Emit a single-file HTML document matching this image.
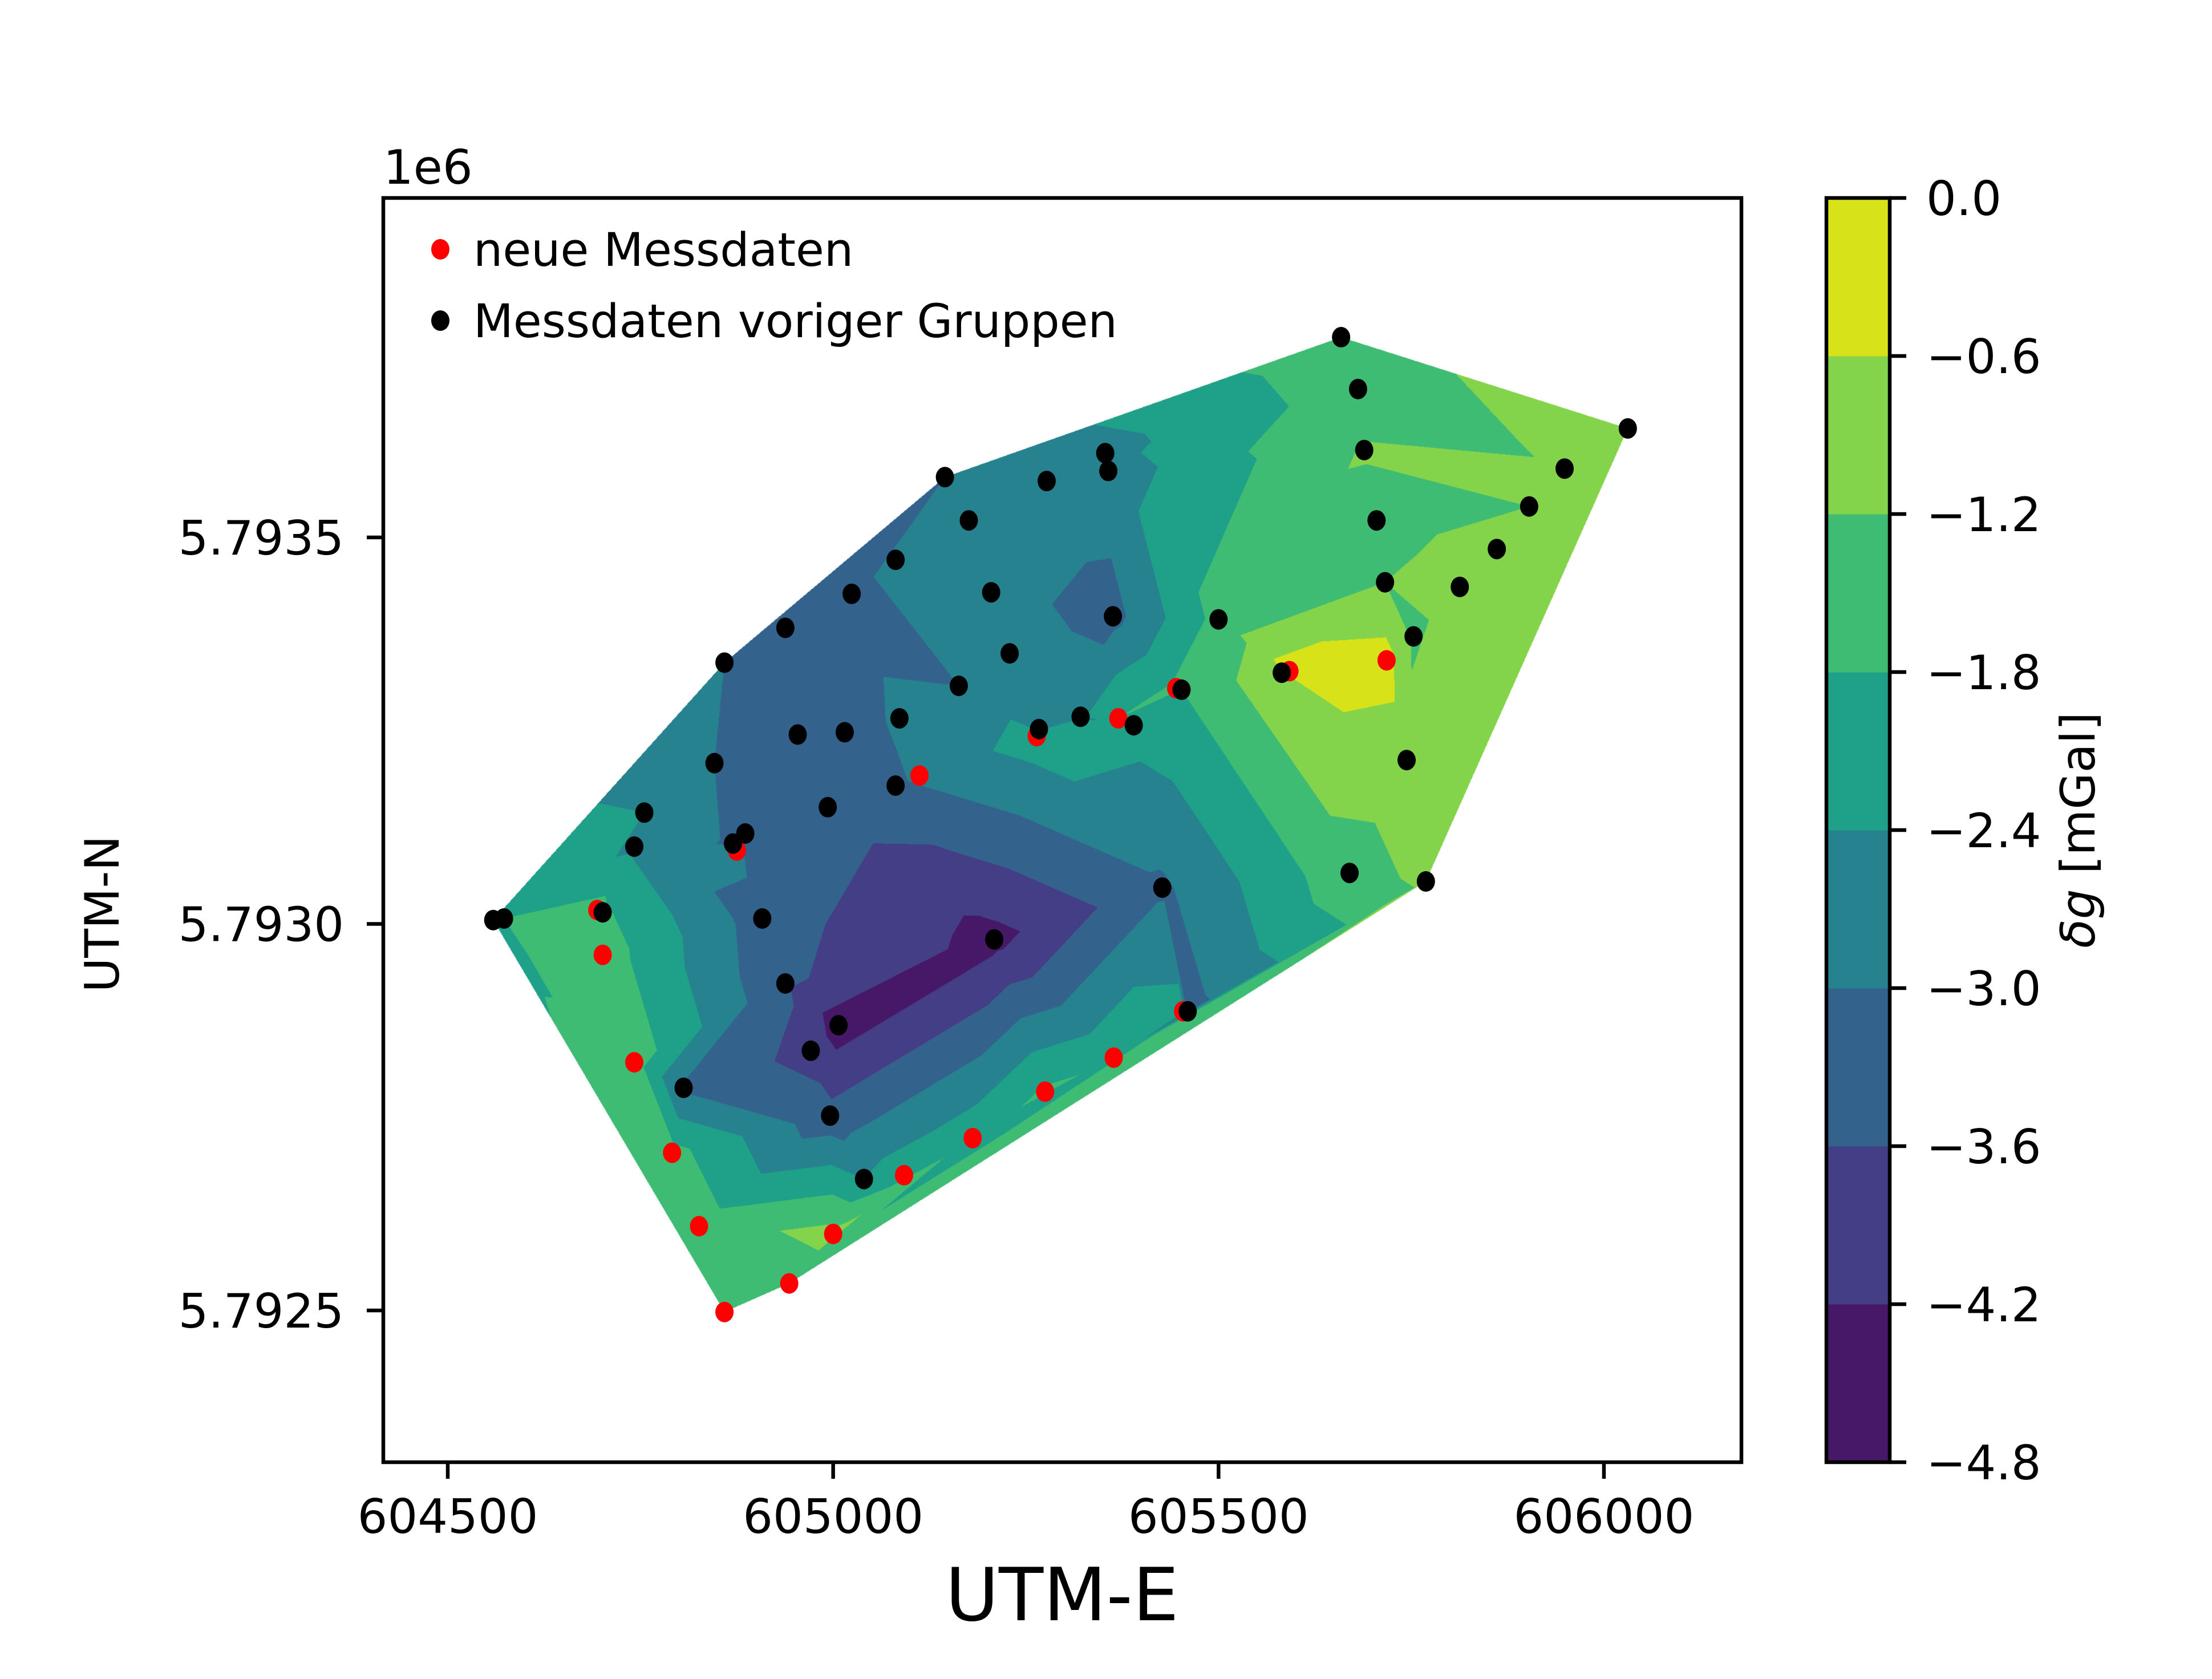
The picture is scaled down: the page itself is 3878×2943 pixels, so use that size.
<!DOCTYPE html>
<html><head><meta charset="utf-8"><style>
html,body{margin:0;padding:0;background:#fff;}
#wrap{position:relative;width:3878px;height:2943px;overflow:hidden;font-family:"DejaVu Sans","Liberation Sans",sans-serif;}
canvas,svg{position:absolute;left:0;top:0;}
</style></head><body>
<div id="wrap">
<canvas id="cv" width="3878" height="2943"></canvas>
<svg id="sv" width="3878" height="2943"></svg>
</div>
<script>
// ---- data ----
const blackE=[604559,604573,604701,604742,604755,604846,604859,604870,604886,604908,604938,604954,604993,605015,605024,605081,605086,605081,605145,605176,605205,605229,605163,605277,605353,605357,605363,605321,605267,605390,605452,605500,605427,605460,605209,605007,604938,604971,604806,604996,605040,605582,605659,605681,605689,605705,605716,605753,605744,605670,605769,605813,605861,605903,605949,606031];
const blackN=[5793005,5793007,5793015,5793100,5793144,5793208,5793338,5793104,5793117,5793007,5793383,5793245,5793151,5793248,5793427,5793471,5793266,5793179,5793578,5793522,5793429,5793350,5793308,5793573,5793609,5793586,5793398,5793268,5793252,5793257,5793303,5793394,5793047,5792887,5792980,5792869,5792923,5792836,5792788,5792752,5792670,5793325,5793759,5793692,5793613,5793522,5793442,5793372,5793212,5793066,5793055,5793436,5793485,5793540,5793589,5793641];
const blackV=[-1.9,-1.8,-1.7,-2.5,-2.4,-3.0,-3.0,-3.1,-3.1,-3.3,-3.2,-3.3,-3.3,-3.3,-3.2,-2.8,-2.9,-3.1,-3.0,-2.9,-2.8,-2.7,-3.0,-2.7,-2.6,-2.7,-3.2,-2.5,-2.5,-2.2,-1.8,-1.6,-3.1,-3.2,-4.4,-4.5,-3.5,-3.8,-3.1,-3.4,-2.4,-0.7,-1.4,-1.5,-1.15,-1.4,-1.2,-1.3,-0.95,-1.4,-1.1,-1.0,-1.0,-1.2,-1.15,-0.9];
const redE=[604694,604701,604742,604791,604826,604859,604943,605000,605092,605181,605275,605364,605454,605112,604875,605264,605370,605445,605592,605718];
const redN=[5793018,5792960,5792821,5792704,5792609,5792498,5792535,5792599,5792675,5792723,5792783,5792827,5792887,5793192,5793095,5793243,5793266,5793305,5793327,5793341];
const redV=[-1.6,-1.5,-1.5,-1.6,-1.5,-1.5,-1.6,-1.0,-2.0,-2.0,-1.7,-1.9,-2.2,-2.9,-2.8,-2.1,-1.8,-1.7,-0.3,-0.35];
const levels=[-4.8,-4.2,-3.6,-3.0,-2.4,-1.8,-1.2,-0.6,0.0];
const levelLabels=["\u22124.8","\u22124.2","\u22123.6","\u22123.0","\u22122.4","\u22121.8","\u22121.2","\u22120.6","0.0"];
const bandColors=["#471868","#433e85","#33638d","#26828e","#1fa088","#3fbc73","#84d44b","#d8e219"];
const xTicks=[604500,605000,605500,606000];
const xTickLabels=["604500","605000","605500","606000"];
const yTicks=[5792500,5793000,5793500];
const yTickLabels=["5.7925","5.7930","5.7935"];

// ---- axes ----
const AX={l:672,r:3053,t:347,b:2563};
const X=e=>785+(e-604500)*1.3513;
const Y=n=>1619.5-(n-5793000)*1.355;
const CB={l:3202,r:3313,t:347,b:2563};
const CY=v=>CB.b-(v-levels[0])/(levels[levels.length-1]-levels[0])*(CB.b-CB.t);

// ---- triangulation (Bowyer-Watson) ----
const P=[];
for(let i=0;i<redE.length;i++)P.push([X(redE[i]),Y(redN[i]),redV[i]]);
for(let i=0;i<blackE.length;i++)P.push([X(blackE[i]),Y(blackN[i]),blackV[i]]);
function circ(a,b,c){const ax=a[0],ay=a[1],bx=b[0],by=b[1],cx=c[0],cy=c[1];
 const d=2*(ax*(by-cy)+bx*(cy-ay)+cx*(ay-by));
 const ux=((ax*ax+ay*ay)*(by-cy)+(bx*bx+by*by)*(cy-ay)+(cx*cx+cy*cy)*(ay-by))/d;
 const uy=((ax*ax+ay*ay)*(cx-bx)+(bx*bx+by*by)*(ax-cx)+(cx*cx+cy*cy)*(bx-ax))/d;
 return [ux,uy,(ax-ux)**2+(ay-uy)**2];}
const pts=P.map(p=>p.slice());
const n0=pts.length;
pts.push([-1e5,-1e5,0],[1e5,-1e5,0],[0,1e5,0]);
let tris=[[n0,n0+1,n0+2]];tris[0].c=circ(pts[n0],pts[n0+1],pts[n0+2]);
for(let i=0;i<n0;i++){
 const p=pts[i];const bad=[],keep=[];
 for(const t of tris){const c=t.c;if((p[0]-c[0])**2+(p[1]-c[1])**2<c[2])bad.push(t);else keep.push(t);}
 const edges={};
 for(const t of bad){for(const [a,b] of [[t[0],t[1]],[t[1],t[2]],[t[2],t[0]]]){const k=a<b?a+'_'+b:b+'_'+a;edges[k]=edges[k]?null:[a,b];}}
 tris=keep;
 for(const k in edges){const e=edges[k];if(!e)continue;const t=[e[0],e[1],i];t.c=circ(pts[t[0]],pts[t[1]],pts[t[2]]);tris.push(t);}
}
tris=tris.filter(t=>t[0]<n0&&t[1]<n0&&t[2]<n0);

// ---- fill ----
const cv=document.getElementById('cv');const ctx=cv.getContext('2d');
const W=AX.r-AX.l,H=AX.b-AX.t;
const img=ctx.createImageData(W,H);
const rgb=bandColors.map(h=>[parseInt(h.substr(1,2),16),parseInt(h.substr(3,2),16),parseInt(h.substr(5,2),16)]);
for(const t of tris){
 const a=pts[t[0]],b=pts[t[1]],c=pts[t[2]];
 const det=(b[1]-c[1])*(a[0]-c[0])+(c[0]-b[0])*(a[1]-c[1]);if(Math.abs(det)<1e-9)continue;
 const x0=Math.max(AX.l,Math.floor(Math.min(a[0],b[0],c[0]))),x1=Math.min(AX.r-1,Math.ceil(Math.max(a[0],b[0],c[0])));
 const y0=Math.max(AX.t,Math.floor(Math.min(a[1],b[1],c[1]))),y1=Math.min(AX.b-1,Math.ceil(Math.max(a[1],b[1],c[1])));
 for(let y=y0;y<=y1;y++)for(let x=x0;x<=x1;x++){
  const px=x+0.5,py=y+0.5;
  const l1=((b[1]-c[1])*(px-c[0])+(c[0]-b[0])*(py-c[1]))/det;
  const l2=((c[1]-a[1])*(px-c[0])+(a[0]-c[0])*(py-c[1]))/det;
  const l3=1-l1-l2;
  if(l1<-1e-6||l2<-1e-6||l3<-1e-6)continue;
  const v=l1*a[2]+l2*b[2]+l3*c[2];
  let k=Math.floor((v-levels[0])/0.6);k=Math.max(0,Math.min(7,k));
  const o=((y-AX.t)*W+(x-AX.l))*4;const col=rgb[k];
  img.data[o]=col[0];img.data[o+1]=col[1];img.data[o+2]=col[2];img.data[o+3]=255;
 }
}
ctx.putImageData(img,AX.l,AX.t);

// ---- svg ----
const NS='http://www.w3.org/2000/svg';const sv=document.getElementById('sv');
function mk(tag,attrs,parent){const e=document.createElementNS(NS,tag);for(const k in attrs)e.setAttribute(k,attrs[k]);(parent||sv).appendChild(e);return e;}
for(let i=0;i<redE.length;i++){const e=mk('ellipse',{cx:X(redE[i]),cy:Y(redN[i]),rx:16,ry:18,fill:'#ff0000'});
 
 }
for(let i=0;i<blackE.length;i++){const e=mk('ellipse',{cx:X(blackE[i]),cy:Y(blackN[i]),rx:16,ry:18,fill:'#000'});
 
 }
const fr=mk('rect',{x:AX.l,y:AX.t,width:W,height:H,fill:'none',stroke:'#000','stroke-width':6.5});


xTicks.forEach((v,i)=>{const x=X(v);
 const l=mk('line',{x1:x,y1:AX.b,x2:x,y2:AX.b+29,stroke:'#000','stroke-width':6.5});
 
 
 const t=mk('text',{x:x,y:2687,'font-size':83,'text-anchor':'middle'});t.textContent=xTickLabels[i];
 
 });
yTicks.forEach((v,i)=>{const y=Y(v);
 const l=mk('line',{x1:AX.l-29,y1:y,x2:AX.l,y2:y,stroke:'#000','stroke-width':6.5});
 
 
 const t=mk('text',{x:603,y:y+30,'font-size':83,'text-anchor':'end'});t.textContent=yTickLabels[i];
 
 });
for(let i=0;i<8;i++){const r=mk('rect',{x:CB.l,y:CY(levels[i+1]),width:CB.r-CB.l,height:CY(levels[i])-CY(levels[i+1])+0.5,fill:bandColors[i]});
 
 }
const cbf=mk('rect',{x:CB.l,y:CB.t,width:CB.r-CB.l,height:CB.b-CB.t,fill:'none',stroke:'#000','stroke-width':6.5});


levels.forEach((v,i)=>{const y=CY(v);
 const l=mk('line',{x1:CB.r,y1:y,x2:CB.r+29,y2:y,stroke:'#000','stroke-width':6.5});
 
 
 const t=mk('text',{x:3377,y:y+30,'font-size':83});t.textContent=levelLabels[i];
 
 });
</script>
<svg width="3878" height="2943" style="position:absolute;left:0;top:0" font-family="DejaVu Sans, Liberation Sans, sans-serif">
<text x="672" y="322" font-size="83">1e6</text>
<text x="1862" y="2840" font-size="128" text-anchor="middle">UTM-E</text>
<text transform="translate(208,1602) rotate(-90)" font-size="83" text-anchor="middle">UTM-N</text>
<text transform="translate(3672,1455) rotate(-90)" font-size="83" text-anchor="middle"><tspan font-style="italic">δg</tspan> [mGal]</text>
<g>
<ellipse cx="772" cy="437" rx="16" ry="18" fill="#ff0000"/>
<text x="830" y="466" font-size="81">neue Messdaten</text>
<ellipse cx="772" cy="562" rx="16" ry="18" fill="#000"/>
<text x="830" y="591" font-size="81">Messdaten voriger Gruppen</text>
</g>
</svg>
</body></html>
